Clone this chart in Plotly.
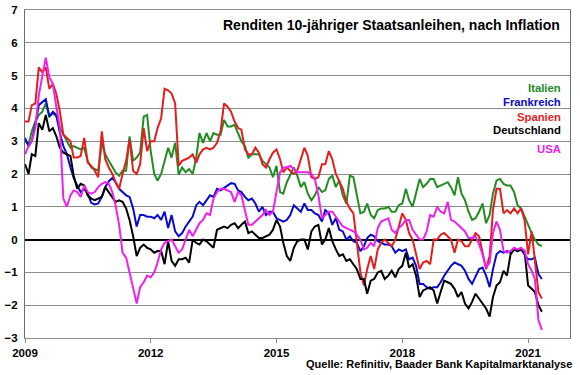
import plotly.graph_objects as go
import pandas as pd

# Monthly observations, Jan 2009 .. May 2021 (149 values each)
start_month = "2009-01-01"

italien = [
    3.0, 2.9, 3.3, 3.6, 3.8, 3.9, 4.15, 3.75, 3.85, 3.75,
    3.4, 3.2, 3.0, 2.8, 2.85, 2.8, 2.75, 2.8, 2.4, 2.2,
    2.15, 2.1, 2.95, 2.6, 2.4, 2.2, 2.05, 1.95, 2.1, 2.1,
    3.15, 2.4, 2.5, 2.65, 3.75, 3.8, 2.7, 2.0, 1.8, 2.0,
    2.4, 2.8, 2.5, 2.95, 1.98, 2.2, 2.05, 2.15, 2.0, 2.5,
    3.25, 2.95, 3.25, 3.0, 3.25, 3.2, 3.2, 3.65, 3.45, 3.45,
    3.5, 3.25, 3.0, 2.85, 2.5, 2.6, 2.6, 2.6, 2.4, 2.3,
    2.2, 1.9, 2.25, 1.45, 1.4, 1.75, 1.95, 2.2, 1.95, 1.6,
    1.75, 1.4, 1.2, 1.35, 1.6, 1.45, 1.5, 1.85, 1.95, 1.6,
    1.8, 1.35, 1.1, 1.95, 1.9, 1.3, 0.8, 0.85, 1.1, 0.75,
    0.65, 0.9, 0.95, 0.95, 1.0, 0.85, 0.85, 1.05, 1.1, 1.55,
    1.2, 1.0, 1.45, 1.85, 1.6, 1.7, 1.85, 1.85, 1.6, 1.65,
    1.7, 1.75, 1.6, 1.35, 1.9, 1.4, 1.2, 0.85, 0.6, 0.65,
    0.85, 1.1, 0.5, 0.75, 1.4, 1.8, 1.85, 1.7, 1.65, 1.65,
    1.45, 1.05, 0.95, 0.7, 0.4, 0.2, 0.0, -0.15, -0.2,
]

frankreich = [
    3.1, 2.85, 3.0, 3.5, 4.1, 4.2, 4.28, 3.75, 3.9, 3.8,
    3.25, 2.85, 2.6, 2.2, 1.88, 1.65, 1.45, 1.55, 1.4, 1.12,
    1.07, 1.1, 1.3, 1.6, 1.78, 1.88, 1.75, 1.55, 1.45, 1.35,
    1.3, 0.95, 0.4, 0.75, 0.75, 0.7, 0.7, 0.65, 0.75, 0.6,
    0.85, 0.35, 0.75, 0.25, 0.1, 0.2, 0.4, 0.55, 0.7, 1.05,
    1.15, 1.05, 1.2, 1.35, 1.3, 1.55, 1.5, 1.58, 1.65, 1.72,
    1.7, 1.5, 1.45, 1.3, 1.2, 1.25, 1.1, 0.85, 1.0, 0.75,
    0.85, 0.85, 0.65, 0.6, 0.55, 0.6, 0.75, 1.05, 0.95, 0.85,
    1.1, 0.9, 0.9, 0.8, 0.75, 0.55, 0.9, 0.8, 0.45, 0.65,
    0.3, 0.25, 0.0, 0.1, -0.05, -0.1, -0.35, -0.2, 0.05, 0.15,
    0.1, -0.05, -0.1, -0.15, -0.15, -0.2, -0.4, -0.3, -0.35, -0.3,
    -0.6, -0.55, -0.8, -1.35, -1.35, -1.45, -1.5, -1.45, -1.45, -1.3,
    -1.1, -0.95, -0.8, -0.7, -0.75, -0.8, -0.95, -1.2, -1.35, -1.1,
    -0.9, -0.85, -1.1, -1.45, -0.9, -0.45, -0.35, -0.4, -0.35, -0.4,
    -0.3, -0.35, -0.3, -0.45, -0.6, -0.6, -0.55, -1.05, -1.2,
]

spanien = [
    3.6, 3.6, 4.1, 4.15, 5.25, 5.1, 5.25, 4.6, 4.75, 4.45,
    3.9, 3.2, 3.1, 3.0, 2.5, 2.5, 2.55, 3.1, 2.35, 2.25,
    2.1, 1.9, 3.3, 2.45, 2.2, 2.0, 1.75, 1.55, 2.0, 2.4,
    3.05, 2.1, 2.0, 2.3, 3.4, 2.7, 3.0, 3.0, 3.4, 3.7,
    4.6, 4.55, 4.45, 4.15, 2.25, 2.4, 2.45, 2.5, 2.6, 2.35,
    2.6, 2.75, 2.8, 2.75, 2.8, 2.95, 3.3, 4.15, 4.05, 3.9,
    3.6, 3.4, 3.35, 2.75, 2.6, 2.6, 2.8, 2.65, 2.3, 2.2,
    2.45, 2.65, 2.75, 2.45, 2.05, 2.2, 2.1, 2.0, 2.1, 2.45,
    2.8, 2.55, 1.9, 1.85, 1.9, 2.3, 2.3, 2.7, 2.45, 2.0,
    1.75, 1.55, 1.15, 0.95, 0.8, 0.0, -1.0, -1.4, -0.9, -0.5,
    -0.9, -0.3, -0.1, 0.0, -0.1, -0.2, 0.0, 0.4, 0.8, 0.6,
    0.2, 0.0, -0.4, -0.9, -0.7, -0.65, -0.75, 0.0, 0.0, 0.15,
    0.2, 0.1, 0.0, -0.4, 0.0, -0.05, -0.2, -0.2, 0.0, 0.2,
    0.1, -0.4, -0.9, -0.5, 0.9, 1.55, 1.55, 0.8, 0.9, 0.8,
    0.95, 0.8, 0.95, 0.6, -0.45, 0.25, -0.6, -1.6, -1.8,
]

deutschland = [
    2.3, 2.0, 2.6, 2.55, 3.55, 3.35, 3.8, 3.3, 3.4, 3.15,
    2.8, 2.65, 2.6, 2.55, 1.95, 1.55, 1.7, 1.65, 1.35, 1.25,
    1.2, 1.25, 1.3, 1.6, 1.45, 1.3, 1.15, 1.2, 1.15, 0.95,
    0.6, 0.1, -0.5, -0.25, -0.15, -0.25, -0.3, -0.4, -0.35, -0.35,
    -0.75, -0.05, -0.65, -0.8, -0.6, -0.6, -0.55, -0.7, 0.0, -0.1,
    -0.15, 0.0, -0.05, -0.15, -0.25, 0.3, 0.35, 0.4, 0.35, 0.45,
    0.5, 0.35, 0.45, 0.55, 0.2, 0.25, 0.15, 0.05, 0.05, 0.1,
    0.15, 0.3, 0.6, 0.4, -0.1, -0.5, -0.65, -0.25, -0.05, 0.0,
    0.0, -0.3, 0.25, 0.4, 0.45, -0.15, 0.0, 0.35, -0.05, -0.3,
    -0.5, -0.45, -0.65, -0.6, -0.75, -0.9, -1.2, -1.2, -1.65, -1.25,
    -1.2, -1.0, -0.95, -1.2, -1.1, -0.95, -1.15, -0.9, -0.8, -0.4,
    -0.85, -0.75, -1.1, -1.75, -1.55, -1.5, -1.45, -1.55, -1.95, -1.6,
    -1.25, -1.3, -1.35, -1.5, -1.75, -1.6, -1.95, -2.1, -1.9, -1.65,
    -1.8, -1.95, -2.1, -2.35, -1.75, -1.4, -1.3, -0.95, -1.1, -0.45,
    -0.3, -0.35, -0.3, -0.35, -1.4, -1.5, -1.6, -2.0, -2.2,
]

usa = [
    2.6, 2.85, 3.0, 3.4, 4.4, 5.0, 5.55, 4.95, 4.75, 4.05,
    3.4, 1.25, 1.0, 1.35, 1.5, 1.45, 1.3, 1.65, 1.45, 1.4,
    1.45, 1.6, 1.7, 1.75, 1.7, 1.45, 1.05, 0.45, -0.4, -0.55,
    -1.0, -1.4, -1.95, -1.45, -1.3, -1.1, -1.15, -1.0, -0.7, -0.3,
    -0.1, -0.05, 0.0, -0.2, -0.4, -0.3, 0.0, 0.3, 0.1, 0.3,
    0.5, 0.6, 0.8, 0.75, 1.25, 1.45, 1.55, 1.55, 1.5, 1.45,
    1.15, 1.45, 1.35, 0.9, 0.45, 0.45, 0.55, 0.65, 0.75, 0.9,
    0.75, 0.85, 1.4, 2.05, 2.2, 2.2, 2.25, 2.15, 2.05, 2.05,
    2.05, 2.05, 2.0, 1.85, 1.35, 0.65, 0.75, 0.85, 0.85, 0.7,
    0.55, 0.4, 0.35, 0.3, 0.25, 0.15, 0.0, -0.3, -0.25, -0.1,
    -0.2, 0.35, 0.55, 0.6, 0.65, 0.3, 0.2, 0.35, 0.45, 0.6,
    0.6, 0.3, 0.15, 0.0, 0.0, 0.25, 0.75, 0.7, 1.0, 0.85,
    0.8, 1.15, 0.6, 0.55, 0.45, 0.35, 0.25, 0.05, 0.05, 0.1,
    -0.15, -0.45, -0.85, -0.7, 0.2, 0.55, 0.3, -0.35, -0.4, -0.35,
    -0.25, -0.3, -0.25, -0.35, -0.75, -0.95, -1.2, -2.45, -2.75,
]

series_names = ["Italien", "Frankreich", "Spanien", "Deutschland", "USA"]
series_colors = ["#228b22", "#0a0acd", "#e41e1e", "#000000", "#ee20ee"]
series_values = [italien, frankreich, spanien, deutschland, usa]

tick_years = ["2009", "2012", "2015", "2018", "2021"]
title_text = "Renditen 10-jähriger Staatsanleihen, nach Inflation"
source_text = "Quelle: Refinitiv, Baader Bank Kapitalmarktanalyse"

n = len(italien)
for s in series_values:
    assert len(s) == n, len(s)
months = pd.date_range(start_month, periods=n, freq="MS")

fig = go.Figure()
for name, color, vals in zip(series_names, series_colors, series_values):
    fig.add_trace(go.Scatter(x=months, y=vals, mode="lines", name=name,
                             line=dict(color=color, width=2)))

W, H = 580, 375
L, R, T, B = 25, 10, 10, 37
pw, ph = W - L - R, H - T - B


def px_x(x):
    return (x - L) / pw


def px_y(y):
    return (H - B - y) / ph


fig.update_layout(
    width=W, height=H,
    margin=dict(l=L, r=R, t=T, b=B, autoexpand=False),
    paper_bgcolor="white", plot_bgcolor="white",
    showlegend=False,
    font=dict(family="Liberation Sans, Arial, sans-serif", color="black"),
    xaxis=dict(
        type="date",
        range=["2009-01-01", "2022-01-01"],
        tickvals=[f"{y}-01-01" for y in tick_years],
        ticktext=tick_years,
        tickfont=dict(size=11.5, weight="bold", color="black"),
        ticks="outside", ticklen=4, tickcolor="#888888",
        showgrid=False, zeroline=False, automargin=False,
        showline=True, mirror=True, linecolor="#8c8c8c", linewidth=1,
    ),
    yaxis=dict(
        range=[-3, 7], dtick=1, tick0=0,
        tickfont=dict(size=11.5, weight="bold", color="black"),
        showgrid=True, gridcolor="#8c8c8c", gridwidth=1,
        zeroline=True, zerolinecolor="black", zerolinewidth=2,
        showline=True, mirror=True, linecolor="#6e6e6e", linewidth=1,
        ticks="", ticklabelstandoff=4, automargin=False,
    ),
)

annotations = [
    dict(text=title_text, x=px_x(562), y=px_y(25), xanchor="right", yanchor="middle",
         font=dict(size=14, weight="bold", color="black")),
    dict(text=source_text, x=px_x(574), y=px_y(364), xanchor="right", yanchor="middle",
         font=dict(size=11, weight="bold", color="black")),
]
legend_y = [88, 102, 117, 130, 149]
for name, color, ly in zip(series_names, series_colors, legend_y):
    annotations.append(dict(text=name, x=px_x(563), y=px_y(ly), xanchor="right", yanchor="middle",
                            font=dict(size=11.3, weight="bold", color=color)))
for a in annotations:
    a.update(xref="paper", yref="paper", showarrow=False)
fig.update_layout(annotations=annotations)

fig.write_html(
    "out.html",
    config={"displayModeBar": False, "staticPlot": True},
    post_script="document.body.style.margin='0px';document.body.style.overflow='hidden';",
)
